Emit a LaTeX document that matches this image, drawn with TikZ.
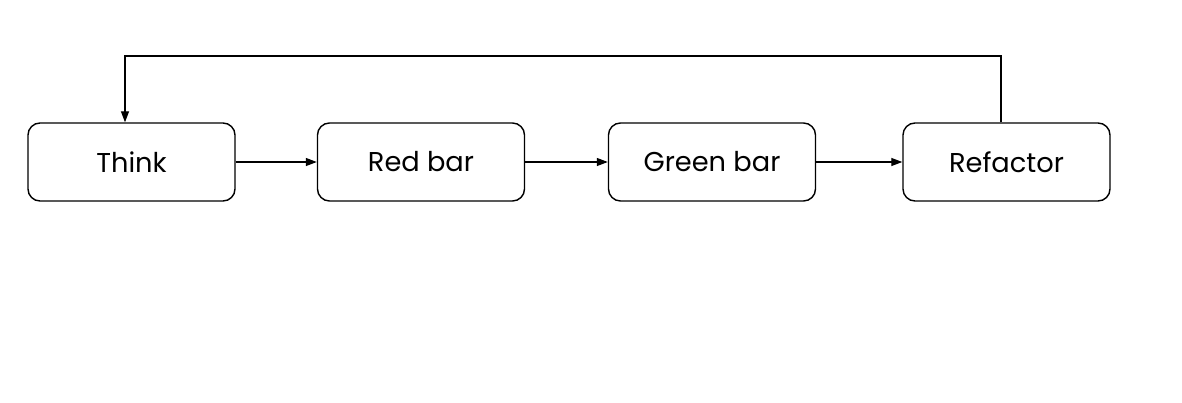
\documentclass[tikz,border=0pt]{standalone}
\usepackage{fontspec}
\setmainfont{Poppins}
\usetikzlibrary{arrows.meta}
\tikzset{
    stage/.style={draw, line width=0.8pt, rounded corners=0.24cm, minimum width=4.14cm, minimum height=1.56cm, font=\fontsize{15.5}{18}\selectfont},
    flow/.style={line width=0.7pt, -{Triangle[length=2.2mm, width=1.6mm]}}
}
\begin{document}
\begin{tikzpicture}
                \useasboundingbox (0,0) rectangle (23.64,8.04);
                \node[stage] (think) at (2.63,4.8) {Think};
                \node[stage] (red) at (8.42,4.8) {Red bar};
                \node[stage] (green) at (14.24,4.8) {Green bar};
                \node[stage] (refactor) at (20.13,4.8) {Refactor};
                \draw[flow] (think.east) -- (red.west);
                \draw[flow] (red.east) -- (green.west);
                \draw[flow] (green.east) -- (refactor.west);
                \coordinate (topright) at (20.02,6.92);
                \coordinate (topleft) at (2.5,6.92);
                \draw[flow] (refactor.north -| topright) -- (topright) -- (topleft) -- (topleft |- think.north);
            \end{tikzpicture}
\end{document}
